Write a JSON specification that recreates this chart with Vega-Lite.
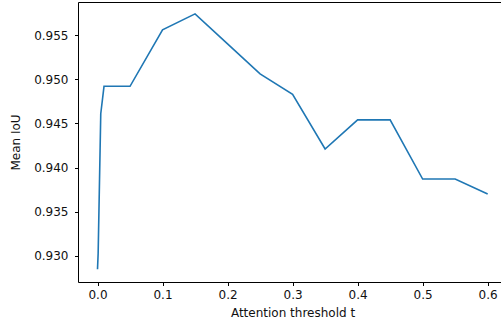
{
  "$schema": "https://vega.github.io/schema/vega-lite/v6.json",
  "autosize": "none",
  "width": 423,
  "height": 280,
  "padding": {"left": 78, "top": 2, "right": 0, "bottom": 39},
  "background": "white",
  "data": {
    "values": [
      {"t": 0, "iou": 0.9285},
      {"t": 0.001, "iou": 0.9303},
      {"t": 0.005, "iou": 0.9461},
      {"t": 0.01, "iou": 0.9492},
      {"t": 0.05, "iou": 0.9492},
      {"t": 0.1, "iou": 0.9556},
      {"t": 0.15, "iou": 0.9574},
      {"t": 0.2, "iou": 0.954},
      {"t": 0.25, "iou": 0.9506},
      {"t": 0.3, "iou": 0.9483},
      {"t": 0.35, "iou": 0.9421},
      {"t": 0.4, "iou": 0.9454},
      {"t": 0.45, "iou": 0.9454},
      {"t": 0.5, "iou": 0.9387},
      {"t": 0.55, "iou": 0.9387},
      {"t": 0.6, "iou": 0.937}
    ]
  },
  "layer": [
    {
      "mark": {"type": "line", "color": "#1f77b4", "strokeWidth": 1.6},
      "encoding": {
        "x": {
          "field": "t", "type": "quantitative",
          "scale": {"domain": [-0.03, 0.6205], "nice": false, "zero": false},
          "axis": {"orient": "bottom", "values": [0, 0.1, 0.2, 0.3, 0.4, 0.5, 0.6], "format": ".1f", "title": "Attention threshold t", "titleX": 214.5, "titlePadding": 7, "labelPadding": 4}
        },
        "y": {
          "field": "iou", "type": "quantitative",
          "scale": {"domain": [0.92705, 0.95874], "nice": false, "zero": false},
          "axis": {"values": [0.93, 0.935, 0.94, 0.945, 0.95, 0.955], "format": ".3f", "title": "Mean IoU", "titlePadding": 11, "labelPadding": 6.5}
        }
      }
    },
    {
      "mark": {"type": "line", "opacity": 0},
      "encoding": {
        "x": {
          "field": "t", "type": "quantitative",
          "axis": {"orient": "top", "labels": false, "ticks": false, "title": null}
        },
        "y": {"field": "iou", "type": "quantitative"}
      }
    }
  ],
  "resolve": {"axis": {"x": "independent"}},
  "config": {
    "view": {"stroke": null},
    "axis": {
      "grid": false,
      "domainColor": "#000",
      "domainWidth": 1,
      "tickColor": "#000",
      "tickSize": 3.5,
      "tickWidth": 1,
      "labelPadding": 3.5,
      "labelFont": "DejaVu Sans",
      "labelFontSize": 12,
      "labelColor": "#111",
      "titleFont": "DejaVu Sans",
      "titleFontSize": 12,
      "titleFontWeight": "normal",
      "titleColor": "#111"
    }
  }
}
